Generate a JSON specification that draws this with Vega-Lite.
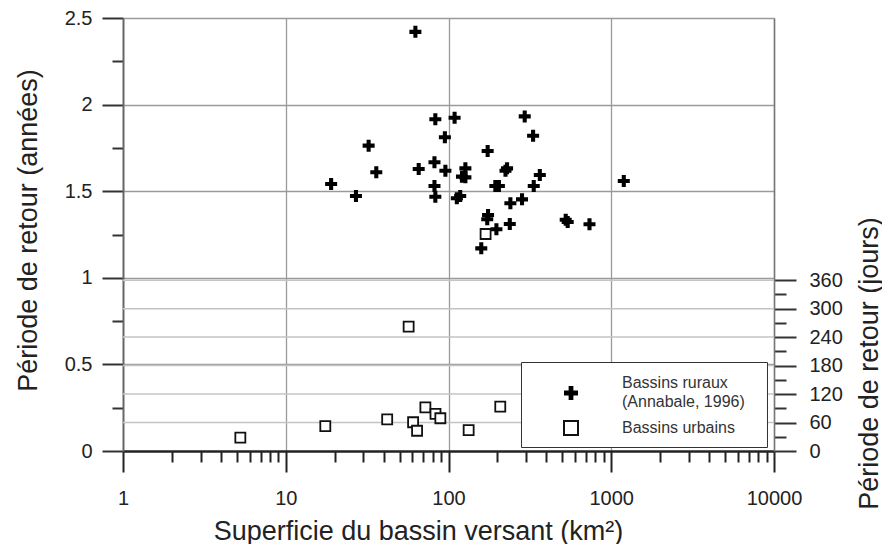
{
  "$schema": "https://vega.github.io/schema/vega-lite/v6.json",
  "autosize": {"type": "none"},
  "padding": {"left": 123, "top": 18, "right": 108, "bottom": 93},
  "width": 651,
  "height": 433,
  "background": "white",
  "config": {
    "font": "Liberation Sans",
    "view": {"stroke": null},
    "style": {"guide-label": {"lineHeight": 19}},
    "axis": {"labelFont": "Liberation Sans", "titleFont": "Liberation Sans", "titleFontWeight": "normal", "labelColor": "#222", "titleColor": "#222"},
    "legend": {
      "orient": "none", "legendX": 398, "legendY": 344,
      "padding": 8, "strokeColor": "#333", "fillColor": "white",
      "symbolOffset": 34, "labelOffset": 43, "symbolSize": 196, "symbolStrokeWidth": 2,
      "labelFont": "Liberation Sans", "labelFontSize": 16, "labelColor": "#333", "labelLimit": 400,
      "rowPadding": 7,
      "titleFontSize": 10, "titlePadding": 5
    }
  },
  "resolve": {"scale": {"y": "independent"}},
  "layer": [
    {
      "data": {"values": [{"d": 60}, {"d": 120}, {"d": 180}, {"d": 240}, {"d": 300}, {"d": 360}]},
      "mark": {"type": "rule", "color": "#c4c4c4", "strokeWidth": 1.5},
      "encoding": {
        "y": {
          "field": "d", "type": "quantitative",
          "scale": {"domain": [0, 912.5], "nice": false, "zero": false},
          "axis": {
            "orient": "right",
            "values": [0, 30, 60, 90, 120, 150, 180, 210, 240, 270, 300, 330, 360],
            "tickSize": {"condition": {"test": "datum.value % 60 == 0", "value": 22}, "value": 12},
            "tickColor": "#333", "tickWidth": 2,
            "labelExpr": "datum.value % 60 == 0 ? datum.label : ''",
            "labelFontSize": 20, "labelPadding": 13, "labelOverlap": false, "labelFlush": false,
            "domain": true, "domainColor": "#777", "domainWidth": 1.5,
            "grid": false,
            "title": "Période de retour (jours)", "titleFontSize": 27,
            "titleAngle": 270, "titleX": 103, "titleY": 345, "titleAlign": "center", "titleBaseline": "alphabetic"
          }
        }
      }
    },
    {
      "data": {"values": [
        {"area": 62.6, "years": 2.42, "type": "Bassins ruraux"},
        {"area": 83, "years": 1.915, "type": "Bassins ruraux"},
        {"area": 109, "years": 1.924, "type": "Bassins ruraux"},
        {"area": 294, "years": 1.932, "type": "Bassins ruraux"},
        {"area": 331, "years": 1.82, "type": "Bassins ruraux"},
        {"area": 95, "years": 1.811, "type": "Bassins ruraux"},
        {"area": 32.3, "years": 1.763, "type": "Bassins ruraux"},
        {"area": 174, "years": 1.732, "type": "Bassins ruraux"},
        {"area": 36, "years": 1.609, "type": "Bassins ruraux"},
        {"area": 19, "years": 1.542, "type": "Bassins ruraux"},
        {"area": 27, "years": 1.472, "type": "Bassins ruraux"},
        {"area": 65.6, "years": 1.628, "type": "Bassins ruraux"},
        {"area": 82, "years": 1.667, "type": "Bassins ruraux"},
        {"area": 95.7, "years": 1.618, "type": "Bassins ruraux"},
        {"area": 127, "years": 1.632, "type": "Bassins ruraux"},
        {"area": 121, "years": 1.584, "type": "Bassins ruraux"},
        {"area": 127, "years": 1.58, "type": "Bassins ruraux"},
        {"area": 82, "years": 1.53, "type": "Bassins ruraux"},
        {"area": 83, "years": 1.468, "type": "Bassins ruraux"},
        {"area": 112.5, "years": 1.459, "type": "Bassins ruraux"},
        {"area": 118, "years": 1.472, "type": "Bassins ruraux"},
        {"area": 229, "years": 1.632, "type": "Bassins ruraux"},
        {"area": 224, "years": 1.618, "type": "Bassins ruraux"},
        {"area": 194, "years": 1.53, "type": "Bassins ruraux"},
        {"area": 204, "years": 1.53, "type": "Bassins ruraux"},
        {"area": 364, "years": 1.594, "type": "Bassins ruraux"},
        {"area": 334, "years": 1.53, "type": "Bassins ruraux"},
        {"area": 240, "years": 1.43, "type": "Bassins ruraux"},
        {"area": 283, "years": 1.453, "type": "Bassins ruraux"},
        {"area": 175, "years": 1.363, "type": "Bassins ruraux"},
        {"area": 173, "years": 1.338, "type": "Bassins ruraux"},
        {"area": 197, "years": 1.28, "type": "Bassins ruraux"},
        {"area": 238, "years": 1.311, "type": "Bassins ruraux"},
        {"area": 159, "years": 1.17, "type": "Bassins ruraux"},
        {"area": 525, "years": 1.335, "type": "Bassins ruraux"},
        {"area": 540, "years": 1.322, "type": "Bassins ruraux"},
        {"area": 735, "years": 1.309, "type": "Bassins ruraux"},
        {"area": 1194, "years": 1.559, "type": "Bassins ruraux"},
        {"area": 5.26, "years": 0.077, "type": "Bassins urbains"},
        {"area": 17.5, "years": 0.144, "type": "Bassins urbains"},
        {"area": 42, "years": 0.183, "type": "Bassins urbains"},
        {"area": 56.9, "years": 0.718, "type": "Bassins urbains"},
        {"area": 60.6, "years": 0.166, "type": "Bassins urbains"},
        {"area": 64.1, "years": 0.117, "type": "Bassins urbains"},
        {"area": 72.1, "years": 0.252, "type": "Bassins urbains"},
        {"area": 83.2, "years": 0.214, "type": "Bassins urbains"},
        {"area": 89.1, "years": 0.189, "type": "Bassins urbains"},
        {"area": 133, "years": 0.121, "type": "Bassins urbains"},
        {"area": 208, "years": 0.256, "type": "Bassins urbains"},
        {"area": 169, "years": 1.253, "type": "Bassins urbains"}
      ]},
      "mark": {"type": "point", "filled": true, "opacity": 1, "strokeWidth": 1.8},
      "encoding": {
        "x": {
          "field": "area", "type": "quantitative",
          "scale": {"type": "log", "domain": [1, 10000], "nice": false},
          "axis": {
            "orient": "bottom",
            "values": [1, 2, 3, 4, 5, 6, 7, 8, 9, 10, 20, 30, 40, 50, 60, 70, 80, 90, 100, 200, 300, 400, 500, 600, 700, 800, 900, 1000, 2000, 3000, 4000, 5000, 6000, 7000, 8000, 9000, 10000],
            "tickSize": {"condition": {"test": "datum.value == 1 || datum.value == 10 || datum.value == 100 || datum.value == 1000 || datum.value == 10000", "value": 21}, "value": 11},
            "tickColor": "#222", "tickWidth": 2,
            "labelExpr": "(datum.value == 1 || datum.value == 10 || datum.value == 100 || datum.value == 1000 || datum.value == 10000) ? format(datum.value, 'd') : ''",
            "labelFontSize": 20, "labelPadding": 16, "labelOverlap": false, "labelFlush": false, "labelBound": false,
            "domainColor": "#222", "domainWidth": 2.5,
            "grid": true, "gridColor": "#9a9a9a", "gridWidth": 1.3,
            "gridOpacity": {"condition": {"test": "datum.value == 10 || datum.value == 100 || datum.value == 1000 || datum.value == 10000", "value": 1}, "value": 0},
            "title": "Superficie du bassin versant (km²)", "titleFontSize": 27,
            "titleX": 295, "titleY": 88, "titleAlign": "center", "titleBaseline": "alphabetic"
          }
        },
        "y": {
          "field": "years", "type": "quantitative",
          "scale": {"domain": [0, 2.5], "nice": false, "zero": false},
          "axis": {
            "orient": "left",
            "values": [0, 0.25, 0.5, 0.75, 1, 1.25, 1.5, 1.75, 2, 2.25, 2.5],
            "tickSize": {"condition": {"test": "datum.value % 0.5 == 0", "value": 21}, "value": 11},
            "tickColor": "#333", "tickWidth": 2,
            "labelExpr": "datum.value % 0.5 == 0 ? toString(datum.value) : ''",
            "labelFontSize": 20, "labelPadding": 10, "labelOverlap": false, "labelFlush": false,
            "domainColor": "#666", "domainWidth": 2,
            "grid": true, "gridColor": "#9a9a9a", "gridWidth": 1.3,
            "gridOpacity": {"condition": {"test": "datum.value % 0.5 == 0 && datum.value > 0", "value": 1}, "value": 0},
            "title": "Période de retour (années)", "titleFontSize": 27,
            "titleAngle": 270, "titleX": -87, "titleY": 212, "titleAlign": "center", "titleBaseline": "alphabetic"
          }
        },
        "shape": {
          "field": "type", "type": "nominal",
          "scale": {"domain": ["Bassins ruraux", "Bassins urbains"], "range": ["M-1,-0.34H-0.34V-1H0.34V-0.34H1V0.34H0.34V1H-0.34V0.34H-1Z", "square"]},
          "legend": {
            "title": "\u200b",
            "labelBaseline": {"expr": "datum.value == 'Bassins ruraux' ? 'line-bottom' : 'middle'"},
            "labelExpr": "datum.label == 'Bassins ruraux' ? ['Bassins ruraux', '(Annabale, 1996)   \u200b'] : datum.label",
            "encode": {
              "legend": {"strokeWidth": {"value": 2}},
              "symbols": {
                "fill": {"condition": {"test": "datum.value == 'Bassins ruraux'", "value": "#000000"}, "value": "#ffffff"},
                "stroke": {"condition": {"test": "datum.value == 'Bassins ruraux'", "value": "rgba(0,0,0,0)"}, "value": "#111111"},
                "opacity": {"value": 1}
              },
              "labels": {
                "lineHeight": {"value": 19}
              }
            }
          }
        },
        "fill": {
          "field": "type", "type": "nominal",
          "scale": {"domain": ["Bassins ruraux", "Bassins urbains"], "range": ["#000000", "#ffffff"]},
          "legend": null
        },
        "stroke": {
          "field": "type", "type": "nominal",
          "scale": {"domain": ["Bassins ruraux", "Bassins urbains"], "range": ["rgba(0,0,0,0)", "#111111"]},
          "legend": null
        },
        "size": {"condition": {"test": "datum.type == 'Bassins ruraux'", "value": 144}, "value": 100}
      }
    }
  ]
}
